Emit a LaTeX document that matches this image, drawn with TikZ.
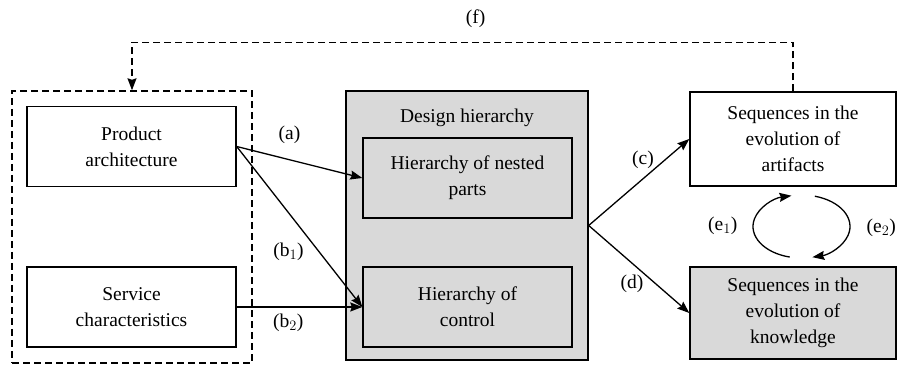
\documentclass[tikz,border=0pt]{standalone}
\usepackage{fontspec}
\setmainfont{Liberation Serif}
\usetikzlibrary{arrows.meta,calc}
\begin{document}
\begin{tikzpicture}[
   x=1pt,y=1pt,
   font=\fontsize{19.5}{25.7}\selectfont,
   box/.style={draw,line width=1.4pt,align=center,inner sep=0pt,minimum width=209pt,minimum height=80pt},
   group/.style={draw,line width=1.4pt,inner sep=0pt},
   shaded/.style={fill=black!15},
   to/.style={-{Stealth[length=12pt,width=9pt,inset=1.5pt]},line width=1.3pt},
   fb/.style={to,dash pattern=on 7pt off 4pt},
   lbl/.style={inner sep=0pt}]
\useasboundingbox (0,0) rectangle (898,367);
% left group
\node[group,dash pattern=on 7pt off 4pt,minimum width=240pt,minimum height=272pt] (inputs) at (132,140) {};
\node[box] (product) at (131.5,220.5) {Product\\architecture};
\node[box] (service) at (131.5,60) {Service\\characteristics};
% design hierarchy
\node[group,shaded,minimum width=242pt,minimum height=269pt] (hier) at (467,141.5) {};
\node[lbl] (hiertitle) at (467,249) {Design hierarchy};
\node[box] (nested) at (467.5,189) {Hierarchy of nested\\parts};
\node[box] (control) at (467.5,60) {Hierarchy of\\control};
% sequences
\node[box,minimum width=206pt,minimum height=94pt] (artifacts) at (793,228) {Sequences in the\\evolution of\\artifacts};
\node[box,shaded,minimum width=206pt,minimum height=92pt] (knowledge) at (793,54) {Sequences in the\\evolution of\\knowledge};
\coordinate (loop) at (801.5,140.5);
% connectors
\draw[to] (product.east) to node[lbl,pos=0.42,above=15pt] {(a)} (nested.west);
\draw[to] (product.east) to node[lbl,pos=0.657,left=15pt] {(b$_1$)} (control.west);
\draw[to] (service.east) to node[lbl,pos=0.41,below=6pt] {(b$_2$)} (control.west);
\draw[to] (hier.east) to node[lbl,pos=0.54,above=9pt] {(c)} (artifacts.west);
\draw[to] (hier.east) to node[lbl,pos=0.43,below=11pt] {(d)} (knowledge.west);
\draw[to] ($(loop)+(256:48.5 and 31.5)$) arc[start angle=256,end angle=102,x radius=48.5,y radius=31.5]
   node[lbl,pos=0.5,left=15pt] {(e$_1$)};
\draw[to] ($(loop)+(74:48.5 and 31.5)$) arc[start angle=74,end angle=-77,x radius=48.5,y radius=31.5]
   node[lbl,pos=0.5,right=16pt] {(e$_2$)};
\draw[fb] (artifacts.north) -- ++(0,49) -| node[lbl,pos=0.24,above=14pt] {(f)} (inputs.north);
\end{tikzpicture}
\end{document}
